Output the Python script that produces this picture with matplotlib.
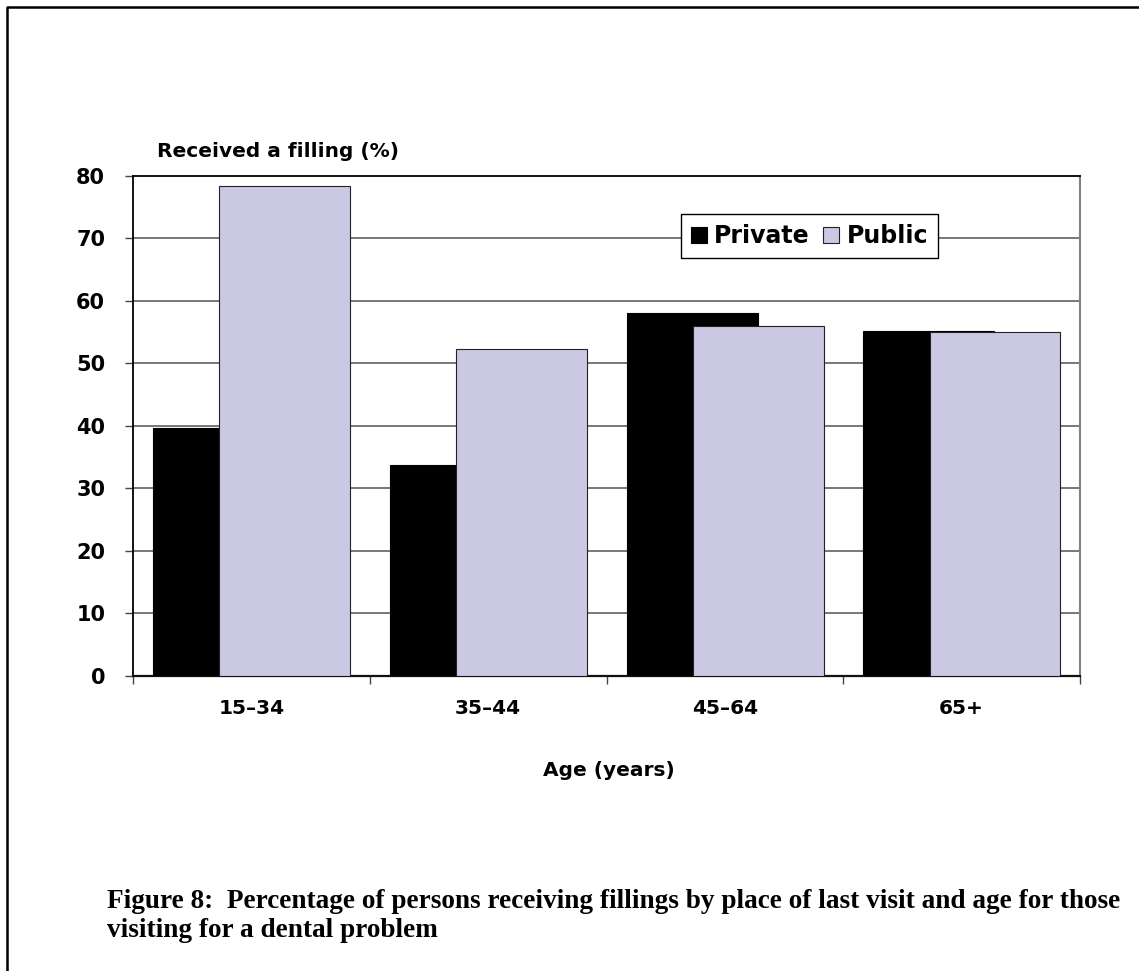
import matplotlib
matplotlib.use("Agg")
import matplotlib.pyplot as plt
from matplotlib.lines import Line2D
import numpy as np

# values
categories = ['15–34', '35–44', '45–64', '65+']
private = [39.7, 33.7, 58.1, 55.2]
public = [78.3, 52.3, 56.0, 55.0]
y_ticks = [0, 10, 20, 30, 40, 50, 60, 70, 80]

W, H = 1139, 971
plt.rcParams['font.family'] = ['DejaVu Sans']
fig = plt.figure(figsize=(W / 100, H / 100), dpi=100)

# plot area (pixel box from the reference)
left, right, top, bottom = 133, 1080, 175.7, 675.7
ax = fig.add_axes([left / W, 1 - bottom / H, (right - left) / W, (bottom - top) / H])

x = np.arange(len(categories))
bw = 0.553
ax.bar(x - 0.138, private, width=bw, color='black', edgecolor='black', linewidth=0.8,
       label='Private', zorder=3)
ax.bar(x + 0.141, public, width=bw, color='#cbc8e4', edgecolor='#222222', linewidth=0.8,
       label='Public', zorder=4)

ax.set_xlim(-0.5, len(categories) - 0.5)
ax.set_ylim(0, 80)
ax.set_yticks(y_ticks)
ax.set_yticklabels([str(v) for v in y_ticks], fontsize=15, fontweight='bold')
ax.tick_params(axis='y', direction='out', length=6, width=1, color='#444444', pad=14)

ax.set_xticks(x)
ax.set_xticklabels(categories, fontsize=14.5, fontweight='bold')
ax.tick_params(axis='x', which='major', length=0, pad=17)
ax.set_xticks(np.arange(-0.5, len(categories)), minor=True)
ax.tick_params(axis='x', which='minor', direction='out', length=6, width=1, color='#444444')

for yv in y_ticks[1:-1]:
    ax.axhline(yv, color='#606060', linewidth=1.2, zorder=1)
ax.spines['top'].set_color('black')
ax.spines['top'].set_linewidth(1.3)
ax.spines['left'].set_color('black')
ax.spines['left'].set_linewidth(1.3)
ax.spines['bottom'].set_color('#111111')
ax.spines['bottom'].set_linewidth(1.6)
ax.spines['right'].set_color('#808080')
ax.spines['right'].set_linewidth(1.5)

fig.text(609 / W, 1 - 776 / H, 'Age (years)', fontsize=14.5, fontweight='bold',
         ha='center', va='baseline')
fig.text(157 / W, 1 - 157.3 / H, 'Received a filling (%)', fontsize=14.5,
         fontweight='bold', ha='left', va='baseline')

leg = ax.legend(loc='upper left', bbox_to_anchor=(680.7 / W, 1 - 214.3 / H),
                bbox_transform=fig.transFigure, ncol=2, frameon=True, fancybox=False,
                framealpha=1, edgecolor='black', borderpad=0.42, handlelength=0.7,
                handleheight=0.7, handletextpad=0.3, columnspacing=0.55,
                borderaxespad=0, prop={'size': 17, 'weight': 'bold'})
leg.get_frame().set_linewidth(1.0)
leg.set_zorder(10)

# page frame (top and left rules)
fx = 7 / W
fy = 1 - 7.5 / H
fig.add_artist(Line2D([fx, fx, 1], [0, fy, fy], transform=fig.transFigure,
                      color='black', linewidth=1.8))

caption = ('Figure 8:  Percentage of persons receiving fillings by place of last visit and age for those\n'
           'visiting for a dental problem')
fig.text(107 / W, 1 - 937 / H, caption, fontsize=19.6, fontweight='bold',
         family=['Liberation Serif', 'DejaVu Serif'], ha='left', va='baseline',
         linespacing=1.2)

fig.savefig('out.png', dpi=100)
